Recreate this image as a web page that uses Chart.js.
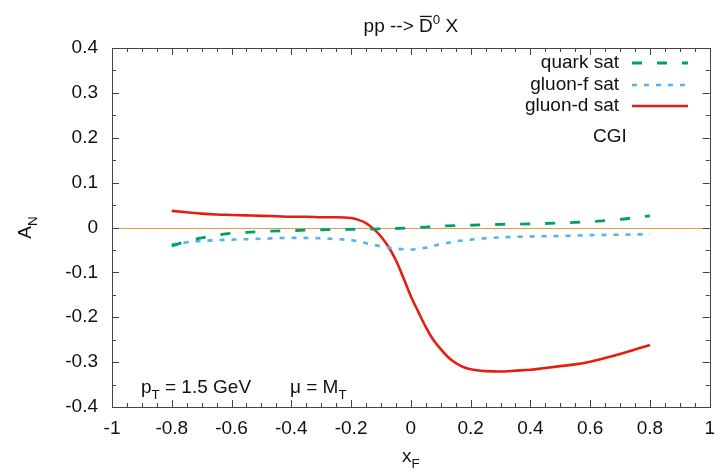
<!DOCTYPE html>
<html>
<head>
<meta charset="utf-8">
<script src="https://cdn.jsdelivr.net/npm/chart.js@4.4.1/dist/chart.umd.min.js"></script>
<style>
  html, body { margin: 0; padding: 0; background: #fff; }
  #wrap { width: 725px; height: 472px; }
</style>
</head>
<body>
<div id="wrap"><canvas id="c"></canvas></div>
<script>
// ── Data ────────────────────────────────────────────────────
const xQuark = [-0.8, -0.75, -0.7, -0.6, -0.5, -0.4, -0.3, -0.2, -0.1, 0, 0.1, 0.2, 0.3, 0.4, 0.5, 0.6, 0.7, 0.75, 0.8];
const quarkSat = [-0.041, -0.031, -0.023, -0.013, -0.009, -0.007, -0.005, -0.004, -0.003, -0.001, 0.003, 0.005, 0.007, 0.008, 0.010, 0.013, 0.018, 0.022, 0.026];

const xGluonF = [-0.8, -0.75, -0.7, -0.6, -0.5, -0.4, -0.3, -0.25, -0.2, -0.15, -0.1, -0.05, 0, 0.05, 0.1, 0.15, 0.2, 0.25, 0.3, 0.4, 0.5, 0.6, 0.7, 0.8];
const gluonFSat = [-0.038, -0.033, -0.030, -0.027, -0.025, -0.023, -0.024, -0.026, -0.028, -0.035, -0.042, -0.047, -0.049, -0.045, -0.037, -0.031, -0.027, -0.024, -0.022, -0.020, -0.019, -0.017, -0.016, -0.015];

const xGluonD = [-0.8, -0.75, -0.7, -0.65, -0.6, -0.55, -0.5, -0.45, -0.4, -0.35, -0.3, -0.25, -0.2, -0.175, -0.15, -0.125, -0.1, -0.075, -0.05, -0.025, 0, 0.025, 0.05, 0.075, 0.1, 0.125, 0.15, 0.175, 0.2, 0.25, 0.3, 0.35, 0.4, 0.45, 0.5, 0.55, 0.6, 0.65, 0.7, 0.75, 0.8];
const gluonDSat = [0.037, 0.034, 0.031, 0.029, 0.028, 0.027, 0.026, 0.025, 0.024, 0.024, 0.023, 0.023, 0.021, 0.017, 0.010, -0.003, -0.020, -0.043, -0.073, -0.112, -0.153, -0.188, -0.222, -0.250, -0.271, -0.289, -0.302, -0.311, -0.316, -0.320, -0.321, -0.319, -0.317, -0.313, -0.309, -0.305, -0.299, -0.291, -0.282, -0.272, -0.262];

const seriesNames = ['quark sat', 'gluon-f sat', 'gluon-d sat'];

const C = {
  green: '#009e73',
  blue:  '#56b4e9',
  red:   '#e51e10',
  zero:  '#e0a040',
  frame: '#444444',
  text:  '#111111',
};
const FONT = '"Liberation Sans", Arial, sans-serif';
const DASH = [[10, 15], [5, 7], []];

const pts = (xs, ys) => xs.map((x, i) => ({ x, y: ys[i] }));

// draw text made of runs, some sub/superscripted
function richText(ctx, parts, x, y, size, align) {
  const widths = parts.map(p => {
    ctx.font = (p.sub || p.sup ? size * 0.7 : size) + 'px ' + FONT;
    return ctx.measureText(p.t).width;
  });
  const total = widths.reduce((a, b) => a + b, 0);
  let cx = align === 'center' ? x - total / 2 : align === 'right' ? x - total : x;
  parts.forEach((p, i) => {
    const s = p.sub || p.sup ? size * 0.7 : size;
    ctx.font = s + 'px ' + FONT;
    const dy = p.sub ? size * 0.3 : p.sup ? -size * 0.4 : 0;
    ctx.fillText(p.t, cx, y + dy);
    if (p.bar) {
      ctx.save();
      ctx.lineWidth = 1.3;
      ctx.strokeStyle = ctx.fillStyle;
      ctx.beginPath();
      ctx.moveTo(cx + 1, y - size * 0.82);
      ctx.lineTo(cx + widths[i] - 1, y - size * 0.82);
      ctx.stroke();
      ctx.restore();
    }
    cx += widths[i];
  });
}

const decor = {
  id: 'decor',
  beforeDatasetsDraw(chart) {
    const { ctx, chartArea: a, scales: { y } } = chart;
    const y0 = Math.round(y.getPixelForValue(0)) + 0.5;
    ctx.save();
    ctx.strokeStyle = C.zero;
    ctx.lineWidth = 1;
    ctx.beginPath();
    ctx.moveTo(a.left, y0);
    ctx.lineTo(a.right, y0);
    ctx.stroke();
    ctx.restore();
  },
  afterDraw(chart) {
    const { ctx, chartArea: a, scales: { x, y } } = chart;
    ctx.save();

    // frame + inward ticks on all sides
    ctx.strokeStyle = C.frame;
    ctx.lineWidth = 1;
    ctx.strokeRect(Math.round(a.left) + 0.5, Math.round(a.top) + 0.5,
                   Math.round(a.right - a.left), Math.round(a.bottom - a.top));
    ctx.beginPath();
    for (let i = -20; i <= 20; i++) {
      const px = Math.round(x.getPixelForValue(i / 20)) + 0.5;
      const len = i % 4 === 0 ? 7 : 4;
      ctx.moveTo(px, a.bottom); ctx.lineTo(px, a.bottom - len);
      ctx.moveTo(px, a.top);    ctx.lineTo(px, a.top + len);
    }
    for (let i = -8; i <= 8; i++) {
      const py = Math.round(y.getPixelForValue(i * 0.05)) + 0.5;
      const len = i % 2 === 0 ? 7 : 4;
      ctx.moveTo(a.left, py);  ctx.lineTo(a.left + len, py);
      ctx.moveTo(a.right, py); ctx.lineTo(a.right - len, py);
    }
    ctx.stroke();

    ctx.fillStyle = C.text;
    ctx.textBaseline = 'alphabetic';
    const cxMid = (a.left + a.right) / 2;

    // title
    richText(ctx, [{ t: 'pp --> ' }, { t: 'D', bar: true }, { t: '0', sup: true }, { t: ' X' }], cxMid, 32, 19, 'center');

    // axis titles
    richText(ctx, [{ t: 'x' }, { t: 'F', sub: true }], cxMid, 462, 19, 'center');
    ctx.save();
    ctx.translate(31, (a.top + a.bottom) / 2);
    ctx.rotate(-Math.PI / 2);
    richText(ctx, [{ t: 'A' }, { t: 'N', sub: true }], 0, 0, 19, 'center');
    ctx.restore();

    // legend
    const rows = [63, 85, 106];
    chart.data.datasets.forEach((ds, i) => {
      ctx.font = '19px ' + FONT;
      ctx.textAlign = 'right';
      ctx.textBaseline = 'middle';
      ctx.fillText(ds.label, 619, rows[i]);
      ctx.strokeStyle = ds.borderColor;
      ctx.lineWidth = ds.borderWidth;
      ctx.setLineDash(ds.borderDash || []);
      ctx.beginPath();
      ctx.moveTo(632, rows[i]);
      ctx.lineTo(688, rows[i]);
      ctx.stroke();
    });
    ctx.setLineDash([]);
    ctx.textAlign = 'center';
    ctx.fillText('CGI', 610, 137);

    // kinematics note
    ctx.textAlign = 'left';
    ctx.textBaseline = 'alphabetic';
    richText(ctx, [{ t: 'p' }, { t: 'T', sub: true }, { t: ' = 1.5 GeV' }], 141, 393, 19, 'left');
    richText(ctx, [{ t: 'μ = M' }, { t: 'T', sub: true }], 290, 393, 19, 'left');

    ctx.restore();
  }
};

const fmt = v => {
  const r = Math.round(v * 10) / 10;
  return r === 0 ? '0' : String(r);
};

new Chart(document.getElementById('c'), {
  type: 'scatter',
  data: {
    datasets: [
      { label: seriesNames[0], data: pts(xQuark, quarkSat), borderColor: C.green, borderWidth: 2.8, borderDash: DASH[0] },
      { label: seriesNames[1], data: pts(xGluonF, gluonFSat), borderColor: C.blue, borderWidth: 2.6, borderDash: DASH[1] },
      { label: seriesNames[2], data: pts(xGluonD, gluonDSat), borderColor: C.red, borderWidth: 2.6 },
    ].map(d => Object.assign(d, { showLine: true, pointRadius: 0, tension: 0.4, cubicInterpolationMode: 'monotone', fill: false }))
  },
  options: {
    responsive: true,
    maintainAspectRatio: false,
    animation: false,
    layout: { padding: { left: 0, right: 13, top: 48, bottom: 0 } },
    plugins: { legend: { display: false }, tooltip: { enabled: false }, title: { display: false } },
    scales: {
      x: {
        type: 'linear', min: -1, max: 1,
        grid: { display: false, drawTicks: false },
        border: { display: false },
        ticks: { stepSize: 0.2, padding: 10, color: C.text, font: { family: FONT, size: 19 }, callback: fmt, maxRotation: 0 },
        afterFit: s => { s.height = 65; },
      },
      y: {
        min: -0.4, max: 0.4,
        grid: { display: false, drawTicks: false },
        border: { display: false },
        ticks: { stepSize: 0.1, padding: 14, color: C.text, font: { family: FONT, size: 19 }, callback: fmt },
        afterFit: s => { s.width = 112; },
      }
    }
  },
  plugins: [decor]
});
</script>
</body>
</html>
